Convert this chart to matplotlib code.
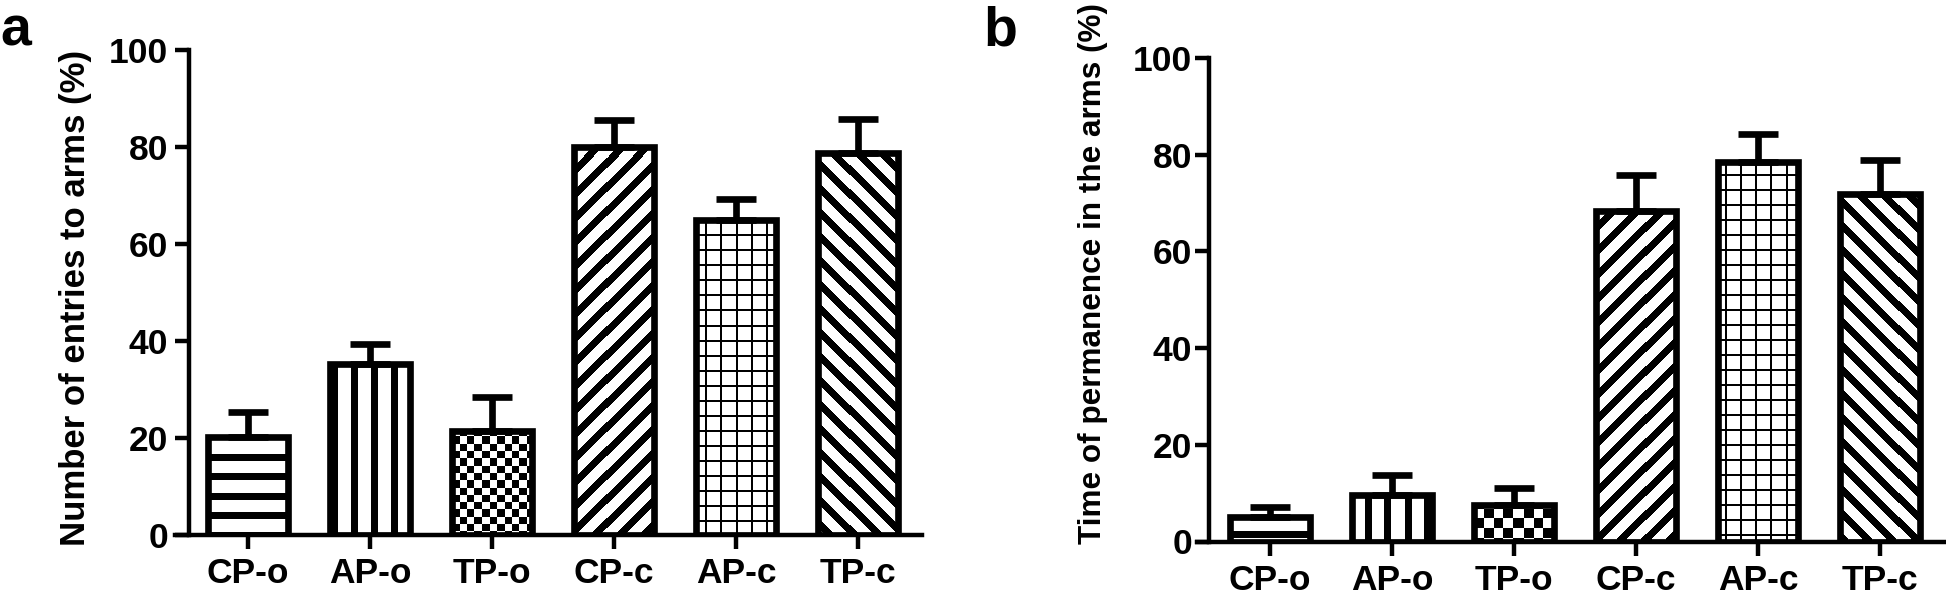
import numpy as np
import matplotlib.pyplot as plt

plt.rcParams['font.family'] = ['Liberation Sans', 'DejaVu Sans']
plt.rcParams['font.weight'] = 'bold'

# group names on the x axis
groups = ['CP-o', 'AP-o', 'TP-o', 'CP-c', 'AP-c', 'TP-c']

# panel a: number of entries to arms (%), mean and SEM
entries_mean = [20.3, 35.3, 21.4, 80.1, 65.0, 78.7]
entries_sem = [5.1, 4.0, 7.0, 5.5, 4.2, 7.0]

# panel b: time of permanence in the arms (%), mean and SEM
perm_mean = [5.1, 9.6, 7.6, 68.4, 78.4, 71.9]
perm_sem = [2.0, 4.2, 3.4, 7.5, 5.8, 7.1]

yticks = [0, 20, 40, 60, 80, 100]

# fill pattern per group
patterns = ['horiz', 'vert', 'checker', 'diag_up', 'grid', 'diag_down']


def pattern_mask(name, px, py, cell):
    # px, py: pixel coordinates, returns 1 where the fill is black
    if name == 'horiz':
        return (py % 19.5) < 7
    if name == 'vert':
        return (px % 19.5) < 7
    if name == 'checker':
        return ((px // cell + py // cell) % 2) == 1
    if name == 'diag_up':
        return ((px - py) % 24) < 10
    if name == 'diag_down':
        return ((px + py) % 24) < 10
    if name == 'grid':
        return ((px % 15) < 2) | ((py % 15) < 2)
    return np.zeros_like(px, dtype=bool)


def add_fill(ax, bar, name, cell):
    bb = bar.get_window_extent()
    x0p, y0p = np.floor(bb.x0), np.floor(bb.y0)
    x1p, y1p = np.ceil(bb.x1), np.ceil(bb.y1)
    nx, ny = int(x1p - x0p), int(y1p - y0p)
    px, py = np.meshgrid(x0p + np.arange(nx) + 0.5, y0p + np.arange(ny) + 0.5)
    img = pattern_mask(name, px, py, cell).astype(float)
    inv = ax.transData.inverted()
    (dx0, dy0), (dx1, dy1) = inv.transform([(x0p, y0p), (x1p, y1p)])
    im = ax.imshow(img, cmap='gray_r', vmin=0, vmax=1, origin='lower',
                   extent=(dx0, dx1, dy0, dy1), aspect='auto',
                   interpolation='nearest', zorder=1.5)
    im.set_clip_path(bar)


def draw_panel(ax, means, sems, spine_x, xlim, cell):
    x = np.arange(len(groups))
    ax.set_xlim(*xlim)
    ax.set_ylim(0, 100)
    bars = ax.bar(x, means, width=0.66, facecolor='none', edgecolor='black',
                  linewidth=4.8, zorder=3)
    ax.errorbar(x, means, yerr=[np.zeros(len(means)), sems], fmt='none',
                ecolor='black', elinewidth=4.8, capsize=14.4, capthick=4.8,
                zorder=2)
    ax.set_xlim(*xlim)
    ax.set_ylim(0, 100)
    for b, name in zip(bars, patterns):
        add_fill(ax, b, name, cell)
    ax.set_xlim(*xlim)
    ax.set_ylim(0, 100)

    ax.set_xticks(x)
    ax.set_xticklabels(groups)
    ax.set_yticks(yticks)
    for s in ['top', 'right']:
        ax.spines[s].set_visible(False)
    for s in ['left', 'bottom']:
        ax.spines[s].set_linewidth(3.2)
    ax.spines['left'].set_position(('data', spine_x))
    ax.tick_params(axis='both', width=3.2, length=10, labelsize=25.5, pad=6,
                   color='black')
    ax.tick_params(axis='y', pad=5)


fig = plt.figure(figsize=(19.46, 5.97), dpi=100)

ax1 = fig.add_axes([175 / 1946, 62 / 597, 747 / 1946, 485 / 597])
draw_panel(ax1, entries_mean, entries_sem, -0.484, (-0.598, 5.525), 7.3)

ax2 = fig.add_axes([1197 / 1946, 55.5 / 597, 749 / 1946, 483.5 / 597])
draw_panel(ax2, perm_mean, perm_sem, -0.5, (-0.598, 5.54), 9.7)
ax2.tick_params(axis='y', pad=2)

fig.text(76 / 1946, 1 - 298 / 597, 'Number of entries to arms (%)', rotation=90,
         ha='center', va='center', fontsize=25, fontweight='bold')
fig.text(1093 / 1946, 1 - 274 / 597, 'Time of permanence in the arms (%)',
         rotation=90, ha='center', va='center', fontsize=22.7, fontweight='bold')

fig.text(0, 1 - 45 / 597, 'a', fontsize=40, fontweight='bold', va='baseline')
fig.text(983 / 1946, 1 - 45 / 597, 'b', fontsize=40, fontweight='bold', va='baseline')

fig.savefig('out.png', dpi=100)
